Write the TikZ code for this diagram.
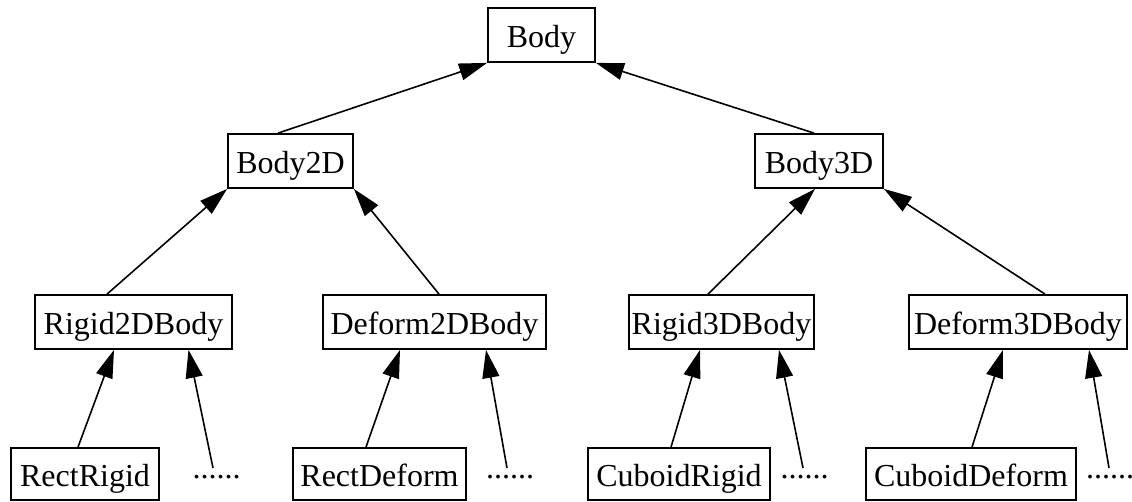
\documentclass[tikz,border=0pt]{standalone}
\usepackage{fontspec}
\setmainfont{Liberation Serif}
\usetikzlibrary{arrows.meta}
\begin{document}
\begin{tikzpicture}[x=1pt,y=-1pt,
  cls/.style={draw=black,line width=1.8pt,rectangle,inner sep=0pt,
    minimum height=54pt,text height=26pt,text depth=2pt,
    font=\fontsize{32}{38}\selectfont},
  low/.style={cls,minimum height=52pt},
  more/.style={inner sep=0pt,anchor=base,font=\fontsize{32}{38}\selectfont},
  inh/.style={line width=1.6pt,-{Triangle[length=28pt,width=17pt]}}]
\useasboundingbox (0,0) rectangle (1132,501);
% level 0
\node[cls,minimum width=107pt] (body) at (541.5,35) {Body};
% level 1
\node[cls,minimum width=125pt] (body2d) at (290.5,161) {Body2D};
\node[cls,minimum width=128pt] (body3d) at (819,161) {Body3D};
% level 2
\node[cls,minimum width=197pt] (rigid2d) at (133.5,322) {Rigid2DBody};
\node[cls,minimum width=223pt] (deform2d) at (434.5,322) {Deform2DBody};
\node[cls,minimum width=185pt] (rigid3d) at (721.5,322) {Rigid3DBody};
\node[cls,minimum width=218pt] (deform3d) at (1018,322) {Deform3DBody};
% level 3
\node[low,minimum width=148pt] (rectrigid) at (85,474) {RectRigid};
\node[low,minimum width=173pt] (rectdeform) at (379.5,474) {RectDeform};
\node[low,minimum width=182pt] (cuboidrigid) at (679,474) {CuboidRigid};
\node[low,minimum width=210pt] (cuboiddeform) at (971,474) {CuboidDeform};
\node[more] (dots1) at (216.5,478) {......};
\node[more] (dots2) at (510,478) {......};
\node[more] (dots3) at (804.5,478) {......};
\node[more] (dots4) at (1110,478) {......};
\coordinate (d1) at (213,468);
\coordinate (d2) at (507,468);
\coordinate (d3) at (803,468);
\coordinate (d4) at (1109,468);
% connectors
\draw[inh] ([xshift=-12.5pt]body2d.north) -- (body.south west);
\draw[inh] ([xshift=-5pt]body3d.north) -- (body.south east);
\draw[inh] ([xshift=-26.5pt]rigid2d.north) -- (body2d.south west);
\draw[inh] ([xshift=4.5pt]deform2d.north) -- (body2d.south east);
\draw[inh] ([xshift=-13.5pt]rigid3d.north) -- ([xshift=-4pt]body3d.south);
\draw[inh] ([xshift=27pt]deform3d.north) -- (body3d.south east);
\draw[inh] ([xshift=-7pt]rectrigid.north) -- ([xshift=-19.5pt]rigid2d.south);
\draw[inh] (d1) -- ([xshift=55pt]rigid2d.south);
\draw[inh] ([xshift=-13.5pt]rectdeform.north) -- ([xshift=-34.5pt]deform2d.south);
\draw[inh] (d2) -- ([xshift=51.5pt]deform2d.south);
\draw[inh] ([xshift=-8pt]cuboidrigid.north) -- ([xshift=-21.5pt]rigid3d.south);
\draw[inh] (d3) -- ([xshift=57.5pt]rigid3d.south);
\draw[inh] ([xshift=1pt]cuboiddeform.north) -- ([xshift=-15pt]deform3d.south);
\draw[inh] (d4) -- ([xshift=71pt]deform3d.south);
\end{tikzpicture}
\end{document}
